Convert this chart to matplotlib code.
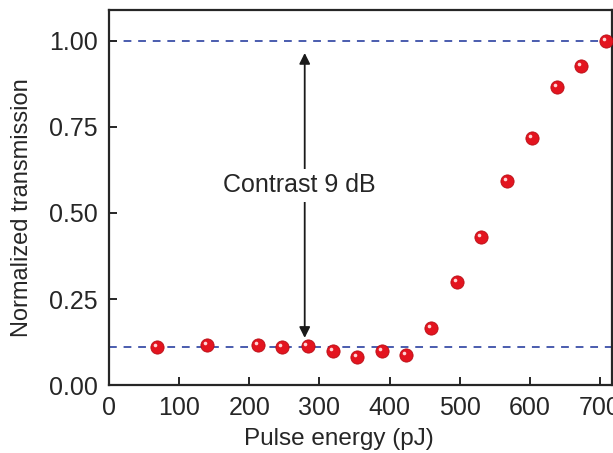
import matplotlib
matplotlib.use("Agg")
import matplotlib.pyplot as plt
import matplotlib.transforms as mtransforms

# data
energy = [69, 140, 212, 247, 283, 319, 353, 389, 424, 459, 496, 531, 567, 603, 639, 673, 709]
transmission = [0.110, 0.116, 0.116, 0.110, 0.113, 0.099, 0.081, 0.099, 0.087, 0.166,
                0.299, 0.430, 0.593, 0.718, 0.866, 0.927, 1.000]
low_level = 0.110
high_level = 1.00
arrow_x = 279
label = "Contrast 9 dB"

plt.rcParams['font.family'] = ['Liberation Sans', 'DejaVu Sans']
ink = '#262626'

fig = plt.figure(figsize=(6.13, 4.53), dpi=100)
ax = fig.add_axes([0.178, 0.150, 0.820, 0.828])

# dashed reference levels
ax.axhline(high_level, color='#4a5cae', lw=1.4, ls=(0, (4, 3.5)), zorder=1)
ax.axhline(low_level, color='#4a5cae', lw=1.4, ls=(0, (4, 3.5)), zorder=1)

# double arrow with the contrast label
ax.annotate('', xy=(arrow_x, 0.965), xytext=(arrow_x, 0.137),
            arrowprops=dict(arrowstyle='<|-|>', color='#1a1a1a', lw=1.3,
                            mutation_scale=16, shrinkA=0, shrinkB=0), zorder=2)
ax.text(arrow_x - 7, 0.58, label, ha='center', va='center', fontsize=18, color=ink,
        bbox=dict(facecolor='white', edgecolor='none', pad=3), zorder=3)

# red spheres with a small highlight
ax.plot(energy, transmission, 'o', ms=9.5, color='#e3141f', mec='#b80e16', mew=0.6,
        zorder=4, clip_on=False)
shine = mtransforms.offset_copy(ax.transData, fig=fig, x=-1.5, y=1.5, units='points')
ax.plot(energy, transmission, 'o', ms=2.6, color='#ffd6d6', mew=0, transform=shine,
        zorder=5, clip_on=False)

ax.set_xlim(0, 717)
ax.set_ylim(0, 1.09)
ax.set_xticks([0, 100, 200, 300, 400, 500, 600, 700])
ax.set_yticks([0, 0.25, 0.5, 0.75, 1.0])
ax.set_yticklabels(['0.00', '0.25', '0.50', '0.75', '1.00'])

ax.tick_params(direction='in', length=6, width=1.4, color=ink, labelsize=18,
               labelcolor=ink, pad=8)
for s in ax.spines.values():
    s.set_linewidth(1.6)
    s.set_color(ink)

ax.set_xlabel('Pulse energy (pJ)', fontsize=17.5, color=ink)
ax.set_ylabel('Normalized transmission', fontsize=17, color=ink)
ax.xaxis.set_label_coords(0.457, -0.115)
ax.yaxis.set_label_coords(-0.152, 0.472)

fig.savefig('out.png', dpi=100)
